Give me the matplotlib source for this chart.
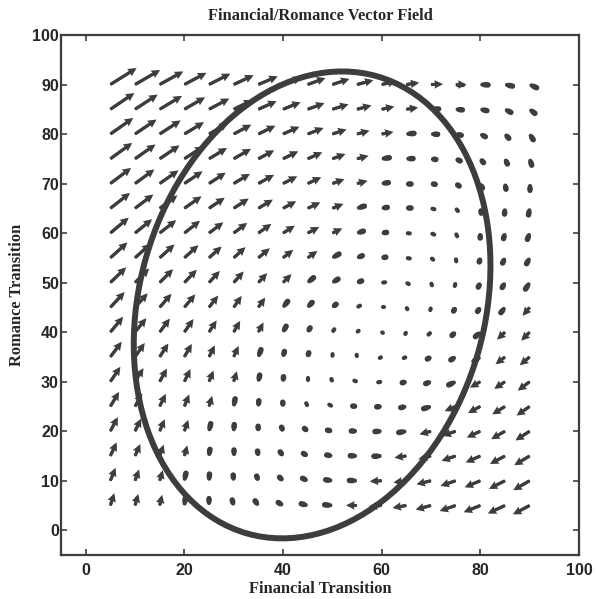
import numpy as np
import matplotlib
matplotlib.use("Agg")
import matplotlib.pyplot as plt
from matplotlib.patches import Ellipse
from matplotlib.collections import LineCollection

# grid of arrow tails
x_grid = [5, 10, 15, 20, 25, 30, 35, 40, 45, 50, 55, 60, 65, 70, 75, 80, 85, 90]
y_grid = [90, 85, 80, 75, 70, 65, 60, 55, 50, 45, 40, 35, 30, 25, 20, 15, 10, 5]

# arrow direction (degrees, counter-clockwise from +x), rows follow y_grid
angle_deg = [
    [32, 30, 29, 28, 27, 25, 23, 21, 20, 18, 15, 13, 8, 2, 0, -3, -12, -25],
    [34, 33, 31, 30, 28, 26, 24, 22, 20, 17, 15, 12, 8, 2, -5, -12, -28, -38],
    [35, 34, 33, 31, 30, 28, 26, 24, 21, 18, 15, 10, 5, -2, -12, -28, -48, -58],
    [36, 35, 34, 33, 31, 30, 28, 26, 24, 20, 15, 8, 2, -8, -25, -50, -65, -72],
    [37, 36, 35, 34, 33, 31, 29, 27, 25, 20, 15, 8, 0, -10, -35, -65, -80, -90],
    [38, 37, 36, 35, 34, 33, 31, 28, 25, 22, 17, 10, 0, -15, -50, -78, -95, -100],
    [40, 39, 38, 38, 37, 37, 35, 32, 28, 25, 17, 8, -5, -25, -65, -92, -105, -110],
    [42, 42, 42, 42, 42, 42, 40, 38, 35, 30, 22, 10, -10, -40, -80, -105, -115, -118],
    [44, 45, 45, 46, 47, 48, 47, 45, 40, 32, 20, 5, -30, -70, -105, -115, -120, -123],
    [47, 48, 49, 50, 52, 55, 55, 52, 48, 40, 30, 0, -60, -105, -120, -125, -128, -130],
    [50, 51, 53, 55, 57, 60, 62, 62, 60, 55, 40, -30, -120, -135, -138, -138, -137, -135],
    [53, 55, 57, 60, 63, 66, 70, 75, 75, 85, 100, -150, -155, -150, -148, -145, -142, -140],
    [56, 58, 61, 64, 68, 73, 78, 84, 90, 110, 160, -170, -165, -160, -155, -150, -146, -143],
    [59, 61, 64, 68, 73, 79, 85, 93, 115, 150, 175, -175, -168, -163, -157, -152, -148, -145],
    [62, 64, 67, 71, 77, 85, 93, 110, 140, 168, 178, -177, -170, -165, -160, -155, -150, -147],
    [65, 66, 70, 74, 82, 90, 100, 125, 150, 170, 178, -178, -172, -166, -161, -156, -152, -149],
    [68, 70, 73, 78, 86, 95, 110, 135, 155, 172, 178, -177, -172, -166, -161, -157, -153, -150],
    [72, 74, 77, 82, 90, 105, 125, 148, 165, 175, 179, -176, -170, -165, -161, -158, -155, -152],
]

# arrow length (pixels)
length_px = [
    [31, 29, 27, 25, 24, 22, 21, 20, 19, 18, 17, 15, 13, 12, 11, 10, 10, 10],
    [29, 27, 26, 24, 23, 21, 20, 19, 18, 17, 15, 13, 12, 10, 9, 9, 9, 9],
    [28, 26, 25, 23, 22, 20, 19, 18, 17, 15, 13, 12, 10, 9, 8, 8, 8, 9],
    [27, 25, 24, 23, 21, 20, 18, 17, 16, 14, 12, 10, 9, 7, 7, 7, 8, 9],
    [26, 24, 23, 22, 20, 19, 18, 16, 15, 13, 11, 9, 7, 6, 6, 7, 8, 9],
    [25, 23, 22, 21, 19, 18, 17, 15, 14, 12, 10, 8, 6, 5, 5, 7, 8, 9],
    [24, 22, 21, 20, 18, 17, 16, 14, 13, 11, 9, 7, 5, 5, 5, 7, 8, 9],
    [23, 21, 20, 19, 17, 16, 15, 13, 12, 10, 8, 6, 5, 4, 5, 6, 8, 9],
    [22, 20, 19, 18, 16, 15, 13, 12, 10, 9, 7, 5, 4, 4, 5, 7, 8, 10],
    [21, 19, 18, 17, 15, 14, 12, 10, 9, 7, 5, 4, 3, 4, 6, 7, 9, 11],
    [20, 18, 17, 16, 14, 13, 11, 9, 7, 5, 3, 2, 3, 5, 7, 9, 11, 12],
    [19, 17, 16, 15, 13, 12, 10, 8, 6, 4, 3, 3, 4, 6, 8, 10, 12, 13],
    [18, 16, 15, 14, 12, 11, 9, 7, 5, 4, 4, 5, 6, 8, 10, 12, 13, 15],
    [17, 15, 14, 13, 11, 10, 8, 6, 5, 5, 6, 7, 8, 10, 12, 14, 15, 16],
    [16, 14, 13, 12, 10, 9, 7, 6, 6, 7, 8, 9, 10, 12, 14, 15, 16, 17],
    [15, 13, 12, 11, 9, 8, 7, 7, 7, 8, 9, 10, 12, 13, 15, 16, 17, 18],
    [14, 12, 11, 10, 9, 8, 7, 7, 8, 9, 10, 12, 13, 15, 16, 17, 18, 19],
    [13, 12, 11, 10, 9, 8, 8, 8, 9, 10, 11, 13, 14, 16, 17, 18, 19, 19],
]

# ellipse (data units)
ell_center = (45.9, 45.5)
ell_major = 96.0
ell_minor = 70.0
ell_angle = 74.0

x_ticks = [0, 20, 40, 60, 80, 100]
y_ticks = [0, 10, 20, 30, 40, 50, 60, 70, 80, 90, 100]

ink = "#3b3e3c"
txt = "#262626"

fig = plt.figure(figsize=(5.97, 5.99), dpi=100)
ax = fig.add_axes([61 / 597, 1 - 555 / 599, (579 - 61) / 597, (555 - 35) / 599])
ax.set_xlim(-5, 100)
ax.set_ylim(-5, 100)

X, Y = np.meshgrid(x_grid, y_grid)
A = np.radians(np.array(angle_deg, dtype=float))
L = np.array(length_px, dtype=float)
px_x = (579 - 61) / 105.0
px_y = (555 - 35) / 105.0
U = L * np.cos(A) / px_x
V = L * np.sin(A) / px_y

big = L >= 11
small = ~big


def segments(mask, f0, f1):
    return [((x + u * a, y + v * a), (x + u * b, y + v * b))
            for x, y, u, v, a, b in zip(X[mask], Y[mask], U[mask], V[mask],
                                        f0[mask], f1[mask])]


# long arrows: rounded shaft + pointed head
f_tail = np.clip(1.3 / L, 0, 0.45)
f_tip = np.clip(1 - 4.0 / L, 0.3, 1)
ax.add_collection(LineCollection(segments(big, f_tail, f_tip), colors=ink,
                                 linewidths=2.3, capstyle="round", zorder=2))
ax.quiver(X[big], Y[big], U[big], V[big], angles="xy", scale_units="xy", scale=1,
          pivot="tail", color=ink, width=0.0055, headwidth=3.0, headlength=3.0,
          headaxislength=2.8, minlength=0.3, minshaft=0.3, zorder=2)

# short arrows: thick dashes, heavier toward the tip
s_tail = np.clip(2.0 / L, 0, 0.3)
s_tip = np.clip(1 - 2.0 / L, 0.7, 1)
ax.add_collection(LineCollection(segments(small, s_tail, s_tip), colors=ink,
                                 linewidths=3.0, capstyle="round", zorder=2))
h_tail = np.clip(0.45 + 0 * L, 0, 1)
h_tip = np.clip(1 - 2.4 / L, 0.7, 1)
ax.add_collection(LineCollection(segments(small & (L >= 6), h_tail, h_tip), colors=ink,
                                 linewidths=4.0, capstyle="round", zorder=2))

ax.add_patch(Ellipse(ell_center, ell_major, ell_minor, angle=ell_angle,
                     fill=False, edgecolor=ink, linewidth=4.3, zorder=3))

ax.set_xticks(x_ticks)
ax.set_yticks(y_ticks)
ax.tick_params(direction="in", length=4, width=1.2, colors=ink, top=True, right=True,
               labelsize=11.5, labelcolor=txt)
ax.tick_params(axis="y", pad=1.5)
ax.tick_params(axis="x", pad=6)
for lbl in ax.get_xticklabels() + ax.get_yticklabels():
    lbl.set_fontfamily("Liberation Sans")
    lbl.set_fontweight("bold")
for s in ax.spines.values():
    s.set_linewidth(1.6)
    s.set_color(ink)

ax.set_title("Financial/Romance Vector Field", fontfamily="Liberation Serif",
             fontsize=11.8, fontweight="bold", color=txt, pad=11)
ax.set_xlabel("Financial Transition", fontfamily="Liberation Serif", fontsize=11.8,
              fontweight="bold", color=txt, labelpad=2)
ax.set_ylabel("Romance Transition", fontfamily="Liberation Serif", fontsize=11.8,
              fontweight="bold", color=txt, labelpad=5)

fig.savefig("out.png", dpi=100)
